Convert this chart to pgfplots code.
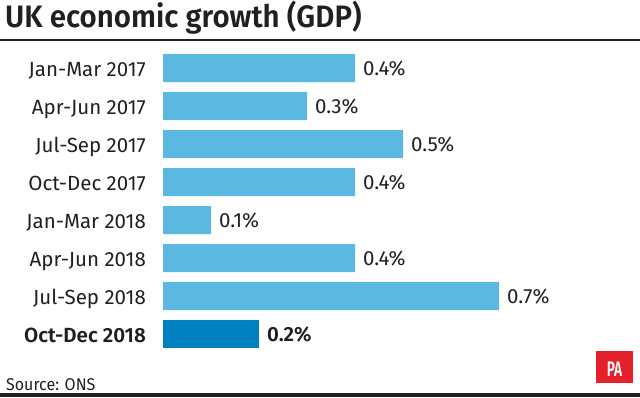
\documentclass[border=0pt]{standalone}
\usepackage{fontspec}
\setmainfont{Fira Sans}
\newfontfamily\semib{Fira Sans SemiBold}
\newfontfamily\titlef[FakeStretch=0.95]{Fira Sans SemiBold}
\newfontfamily\srcf[FakeStretch=0.94]{Fira Sans}
\newfontfamily\paf[FakeStretch=0.65]{Fira Sans SemiBold}
\usepackage{pgfplots}
\pgfplotsset{compat=1.18}
\definecolor{lightbar}{HTML}{5BB8E0}
\definecolor{darkbar}{HTML}{0081C0}
\definecolor{pared}{HTML}{E4202A}
\definecolor{txt}{HTML}{231F20}
\begin{document}
\begin{tikzpicture}[x=1pt,y=1pt]
\useasboundingbox (0,0) rectangle (640,-397);
\node[anchor=base west, inner sep=0pt, font=\titlef\fontsize{31}{36}\selectfont, text=txt] at (5,-27) {UK economic growth (GDP)};
\draw[line width=2pt, txt] (0,-40) -- (640,-40);
\begin{axis}[
  at={(163pt,-353pt)}, anchor=south west,
  scale only axis, width=432pt, height=304pt,
  xmin=0, xmax=0.9, ymin=-0.5, ymax=7.5, y dir=reverse,
  axis lines=none, clip=false,
  xbar, bar width=28pt,
  ytick=\empty, xtick=\empty,
  every node near coord/.append style={font=\fontsize{20.5}{22}\selectfont, text=txt, anchor=base west, inner sep=0pt, xshift=8pt, yshift=-7.5pt},
  nodes near coords={\pgfmathprintnumber[fixed,precision=1,zerofill,assume math mode=true]{\pgfplotspointmeta}\%},
  point meta=x,
]
\addplot[fill=lightbar, draw=none, bar shift=0pt] coordinates {(0.4,0) (0.3,1) (0.5,2) (0.4,3) (0.1,4) (0.4,5) (0.7,6)};
\addplot[fill=darkbar, draw=none, bar shift=0pt, every node near coord/.append style={font=\semib\fontsize{20.5}{22}\selectfont}] coordinates {(0.2,7)};
\end{axis}
\foreach \i/\lab in {0/Jan-Mar 2017,1/Apr-Jun 2017,2/Jul-Sep 2017,3/Oct-Dec 2017,4/Jan-Mar 2018,5/Apr-Jun 2018,6/Jul-Sep 2018}{
  \node[anchor=base east, inner sep=0pt, font=\fontsize{20.5}{22}\selectfont, text=txt] at (146,{-76-38*\i}) {\lab};
}
\node[anchor=base east, inner sep=0pt, font=\semib\fontsize{20.5}{22}\selectfont, text=txt] at (146,{-76-38*7}) {Oct-Dec 2018};
\node[anchor=base west, inner sep=0pt, font=\srcf\fontsize{17}{19}\selectfont, text=txt] at (6,-390) {Source: ONS};
\fill[pared] (596,-351) rectangle (633,-383);
\node[anchor=base, text=white, font=\paf\fontsize{21}{22}\selectfont, inner sep=0pt] at (614.5,-376) {PA};
\fill[txt] (0,-393) rectangle (640,-397);
\end{tikzpicture}
\end{document}
